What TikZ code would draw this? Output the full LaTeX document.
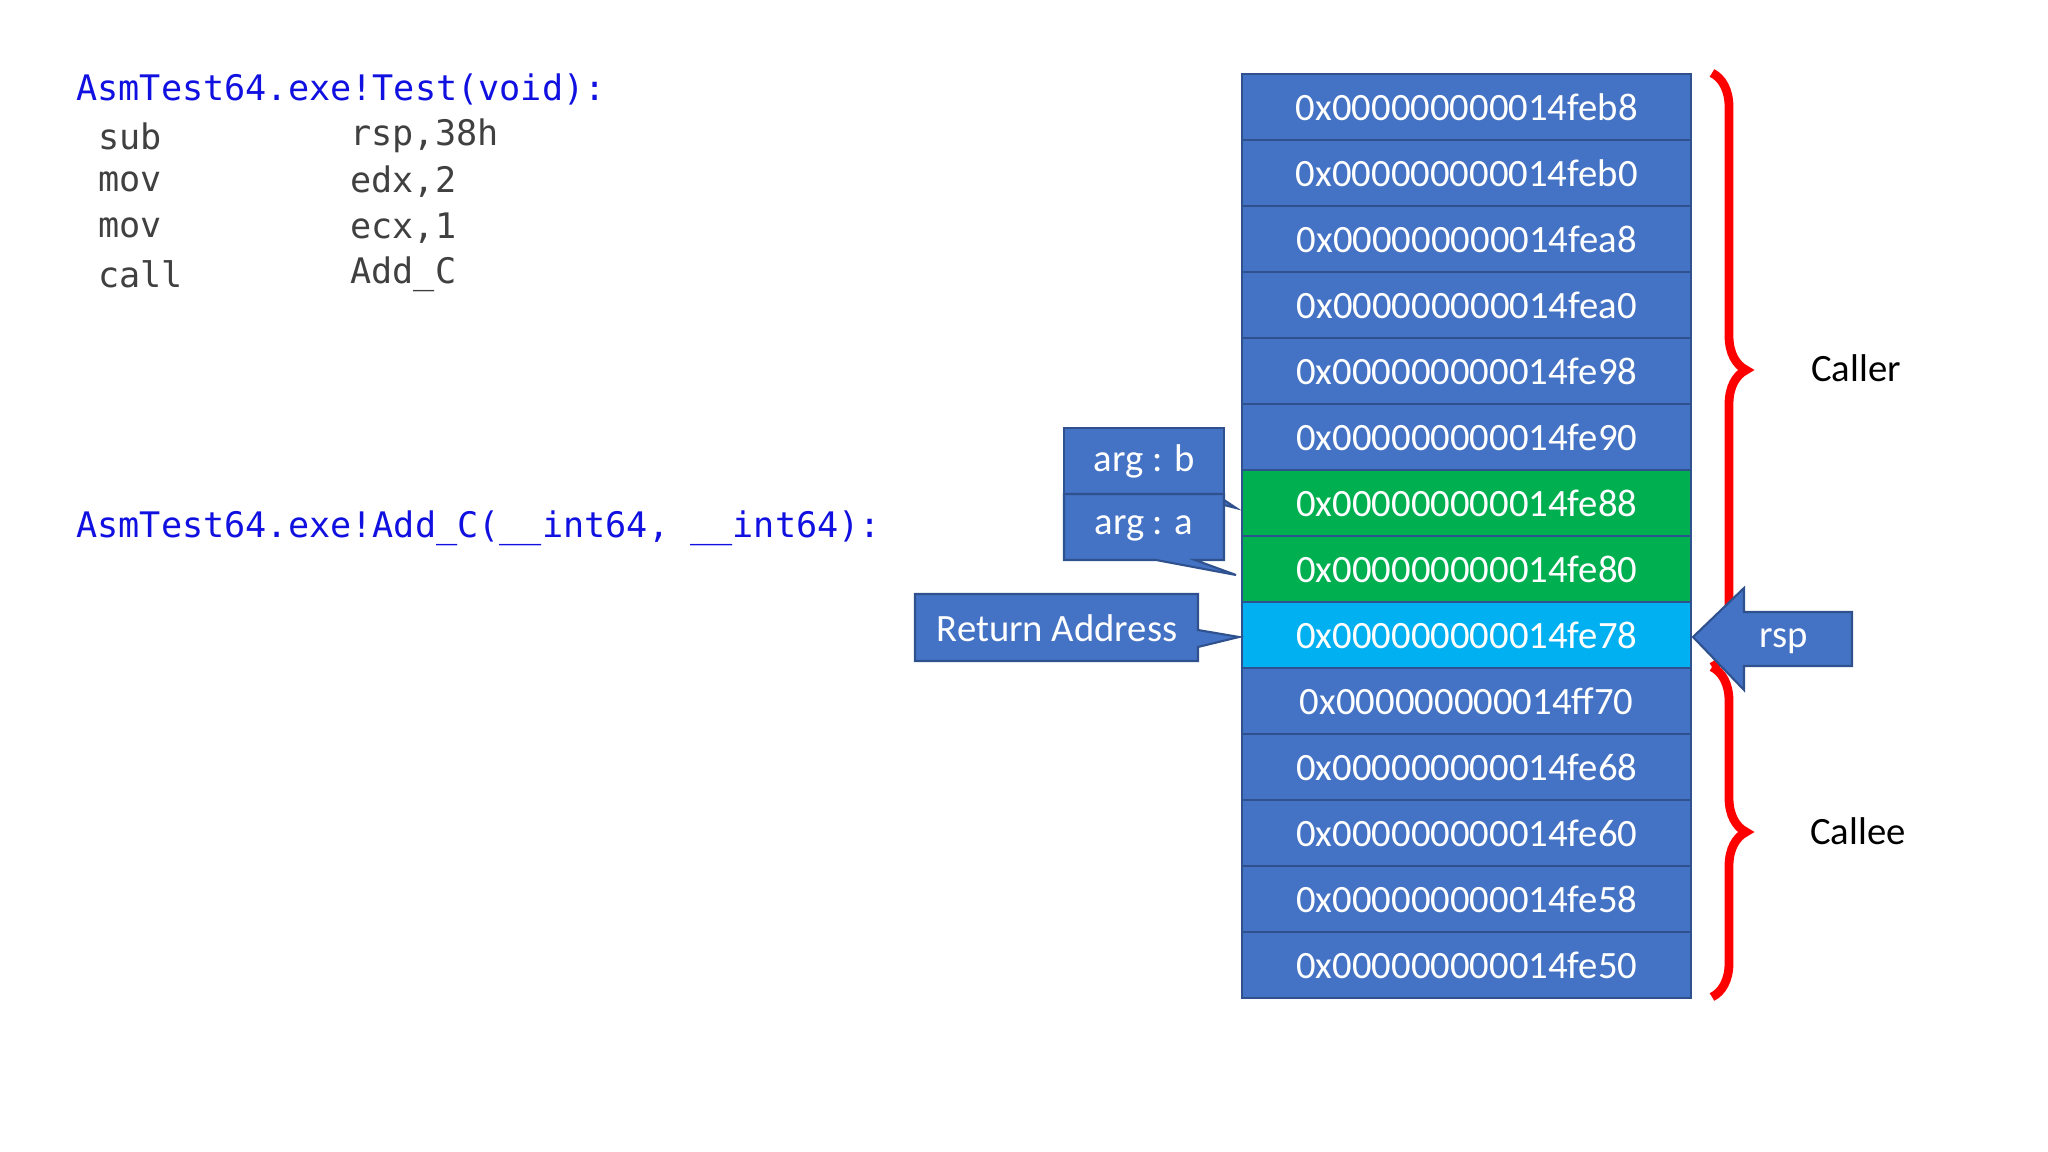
\documentclass[tikz,border=0pt]{standalone}
\usepackage{fontspec}
\setmainfont{Carlito}
\newfontfamily\codefont{DejaVu Sans Mono}
\usetikzlibrary{decorations.pathreplacing}
\definecolor{cblue}{HTML}{4472C4}
\definecolor{cgreen}{HTML}{00B050}
\definecolor{ccyan}{HTML}{00B0F0}
\definecolor{cedge}{HTML}{2F528F}
\definecolor{codeblue}{HTML}{1010E0}
\definecolor{codegray}{HTML}{404040}
\begin{document}
\begin{tikzpicture}[x=0.01cm,y=-0.01cm,
  cell/.style={draw=cedge,line width=0.6pt,minimum width=4.49cm,minimum height=0.66cm,inner sep=0pt,text=white,font=\fontsize{11}{13}\selectfont,anchor=north west},
  callout/.style={fill=cblue,draw=cedge,line width=0.6pt},
  lbl/.style={text=white,font=\fontsize{11}{13}\selectfont},
  code/.style={font=\codefont\fontsize{10}{12}\selectfont,anchor=west},
  brace/.style={draw=red,line width=2.5pt,decorate,decoration={brace,amplitude=0.34cm}}]
\useasboundingbox (0,0) rectangle (2048,1152);
% code
\node[code,text=codeblue] (t1) at (64,89) {AsmTest64.exe!Test(void):};
\node[code,text=codegray] (s1) at (86,136) {sub};
\node[code,text=codegray] (s2) at (338,136) {rsp,38h};
\node[code,text=codegray] (m1) at (86,182) {mov};
\node[code,text=codegray] (m2) at (338,182) {edx,2};
\node[code,text=codegray] (n1) at (86,228) {mov};
\node[code,text=codegray] (n2) at (338,228) {ecx,1};
\node[code,text=codegray] (c1) at (86,274) {call};
\node[code,text=codegray] (c2) at (338,274) {Add\_C};
\node[code,text=codeblue] (t2) at (64,528) {AsmTest64.exe!Add\_C(\_\_int64, \_\_int64):};
% stack
\foreach \i/\t/\c in {0/feb8/cblue,1/feb0/cblue,2/fea8/cblue,3/fea0/cblue,4/fe98/cblue,5/fe90/cblue,6/fe88/cgreen,7/fe80/cgreen,8/fe78/ccyan,9/ff70/cblue,10/fe68/cblue,11/fe60/cblue,12/fe58/cblue,13/fe50/cblue}
  \node[cell,fill=\c] (r\i) at (1241,{73+66*\i}) {0x000000000014\t};
% callouts
\draw[callout] (1064,428) rectangle (1224,494);
\draw[callout] (1224,500) -- (1236,508) -- (1224,505) -- cycle;
\node[lbl] (ab) at (1144,461) {arg : b};
\draw[callout] (1064,494) -- (1224,494) -- (1224,560) -- (1195,560) -- (1236,575) -- (1156,560) -- (1064,560) -- cycle;
\node[lbl] (aa) at (1144,528) {arg : a};
\draw[callout] (915,594) -- (1198,594) -- (1198,630) -- (1239,637) -- (1198,647) -- (1198,661) -- (915,661) -- cycle;
\node[lbl] (ra) at (1057,628) {Return Address};
% braces
\draw[brace] (1712,73) -- (1712,667);
\draw[brace] (1712,667) -- (1712,997);
\node[font=\fontsize{11}{13}\selectfont] (caller) at (1856,368) {Caller};
\node[font=\fontsize{11}{13}\selectfont] (callee) at (1858,831) {Callee};
% rsp arrow
\draw[callout] (1693,637) -- (1744,588) -- (1744,612) -- (1852,612) -- (1852,666) -- (1744,666) -- (1744,690) -- cycle;
\node[lbl] (rsp) at (1784,641) {rsp};
\end{tikzpicture}
\end{document}
